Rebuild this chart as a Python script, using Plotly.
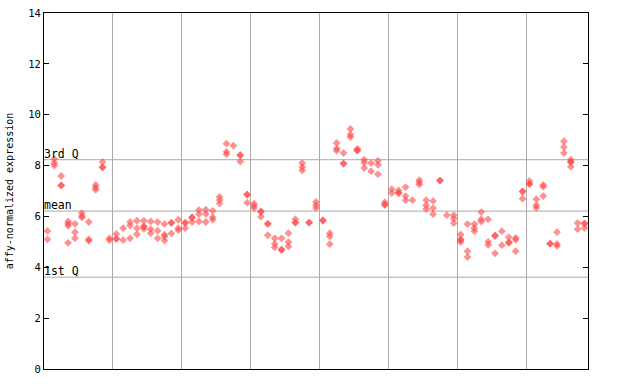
import plotly.graph_objects as go

# Expression values per sample column (replicates share a column)
sample_values = [
    [5.43, 5.10],
    [8.26, 8.10, 8.00],
    [7.59, 7.22, 7.22],
    [5.80, 5.71, 5.63, 4.96],
    [5.71, 5.38, 5.14],
    [6.13, 6.02, 5.96],
    [5.78, 5.10, 5.04],
    [7.24, 7.14, 7.05],
    [8.14, 7.93, 7.93],
    [5.14, 5.07],
    [5.31, 5.12, 5.12],
    [5.54, 5.07],
    [5.78, 5.64, 5.14],
    [5.83, 5.54, 5.30],
    [5.83, 5.60, 5.60, 5.51],
    [5.80, 5.50, 5.34],
    [5.78, 5.44, 5.14],
    [5.70, 5.28, 5.21, 5.05],
    [5.75, 5.75, 5.33],
    [5.87, 5.54, 5.46],
    [5.75, 5.75, 5.54],
    [5.96, 5.96, 5.78],
    [6.25, 6.09, 5.80],
    [6.27, 6.10, 5.78],
    [6.22, 5.97, 5.88],
    [6.77, 6.65, 6.51],
    [8.86, 8.54, 8.45],
    [8.78],
    [8.41, 8.41, 8.16],
    [6.86, 6.86, 6.54],
    [6.50, 6.42, 6.33],
    [6.19, 6.19, 5.99],
    [5.71, 5.71, 5.26],
    [5.14, 4.92, 4.78],
    [5.14, 4.69, 4.69],
    [5.34, 4.99, 4.82],
    [5.89, 5.76, 5.76],
    [8.10, 7.94, 7.81],
    [5.76, 5.76],
    [6.57, 6.44, 6.33],
    [5.84, 5.84],
    [5.34, 5.22, 4.91],
    [8.89, 8.67, 8.59],
    [8.49, 8.08, 8.08],
    [9.44, 9.22, 9.12],
    [8.66, 8.59, 8.59],
    [8.23, 8.12, 7.90],
    [8.10, 7.78],
    [8.19, 8.03, 7.66],
    [6.56, 6.46, 6.46],
    [7.07, 6.92],
    [7.02, 6.92, 6.92],
    [7.15, 6.80, 6.64],
    [6.64],
    [7.43, 7.34, 7.26],
    [6.64, 6.44, 6.29],
    [6.61, 6.33, 6.09],
    [7.41, 7.41],
    [6.05],
    [6.05, 5.92, 5.74],
    [5.29, 5.08, 5.08, 4.99],
    [5.70, 4.63, 4.40],
    [5.70, 5.54, 5.42],
    [6.17, 5.89, 5.80],
    [5.89, 5.00, 4.88],
    [5.24, 5.24, 4.55],
    [5.42, 4.87],
    [5.18, 4.97, 4.97],
    [5.16, 5.08, 4.63],
    [6.98, 6.98, 6.70],
    [7.39, 7.28, 7.28],
    [6.68, 6.44, 6.34],
    [7.24, 7.17, 6.80],
    [4.93, 4.93],
    [5.38, 4.92, 4.84],
    [8.96, 8.73, 8.49],
    [8.23, 8.14, 8.14, 7.95],
    [5.74, 5.50],
    [5.72, 5.72, 5.54],
]

group_boundaries = [10.5, 20.5, 30.5, 40.5, 50.5, 60.5, 70.5]
y_ticks = [0, 2, 4, 6, 8, 10, 12, 14]
quartile_names = ["3rd Q", "mean", "1st Q"]
quartile_values = [8.23, 6.21, 3.61]

xs, ys = [], []
for i, vals in enumerate(sample_values, start=1):
    for v in vals:
        xs.append(i)
        ys.append(v)

n = len(sample_values)
mono = "DejaVu Sans Mono"
grid_col = "#aaaaaa"

fig = go.Figure()
fig.add_trace(go.Scatter(
    x=xs, y=ys, mode="markers",
    marker=dict(symbol="diamond", size=6, color="#ff4848", opacity=0.6,
                line=dict(width=0)),
    hoverinfo="y", showlegend=False,
))

for name, val in zip(quartile_names, quartile_values):
    fig.add_shape(type="line", xref="paper", x0=0, x1=1, y0=val, y1=val,
                  line=dict(color=grid_col, width=1), layer="below")
    fig.add_annotation(xref="paper", x=0, y=val, text=name, showarrow=False,
                       xanchor="left", yanchor="bottom", xshift=-2, yshift=-3,
                       font=dict(family=mono, size=11.5, color="black"))

fig.update_layout(
    width=640, height=384,
    margin=dict(l=44, r=52, t=13, b=15, autoexpand=False),
    paper_bgcolor="white", plot_bgcolor="white",
    xaxis=dict(range=[0.5, n + 0.5], tickvals=group_boundaries,
               showticklabels=False, ticks="", showgrid=True, automargin=False,
               gridcolor=grid_col, gridwidth=1, zeroline=False,
               showline=True, linecolor="black", linewidth=1, mirror=True),
    yaxis=dict(range=[0, 14], tickvals=y_ticks, ticks="inside", ticklen=5,
               tickcolor="black", showgrid=False, zeroline=False, automargin=False,
               showline=True, linecolor="black", linewidth=1, mirror="allticks",
               tickfont=dict(family=mono, size=10.5, color="black"),
               title=dict(text="affy-normalized expression",
                          font=dict(family=mono, size=10, color="black"),
                          standoff=12)),
)

fig.write_html("out.html")
